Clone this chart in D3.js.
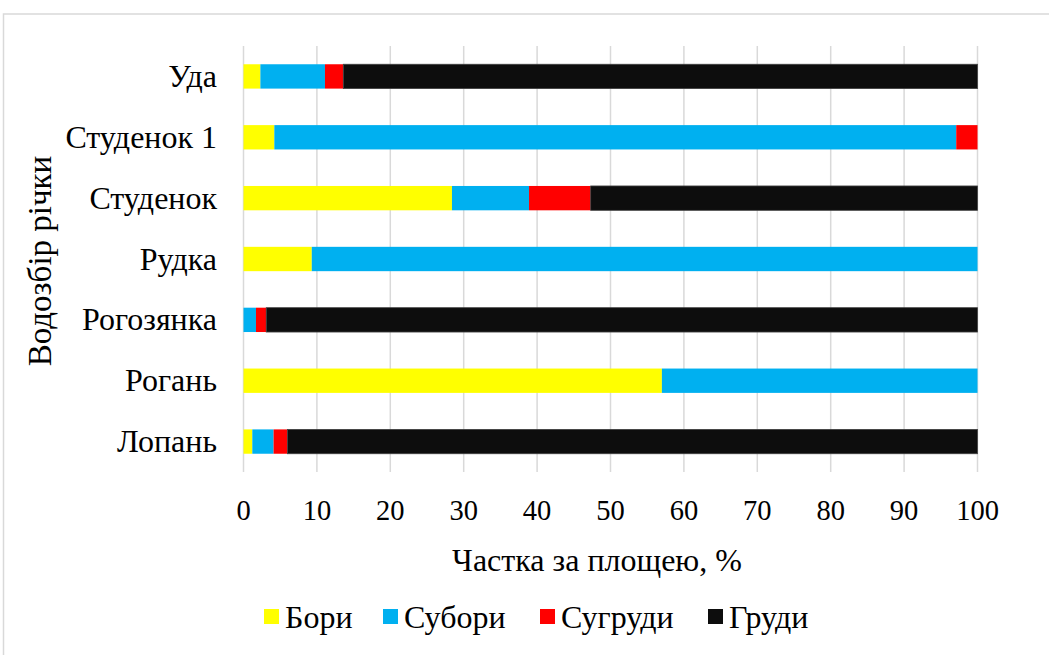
<!DOCTYPE html>
<html>
<head>
<meta charset="utf-8">
<script src="https://cdn.jsdelivr.net/npm/d3@7"></script>
<style>
  html, body { margin: 0; padding: 0; background: #fff; }
  svg { display: block; font-family: "Liberation Serif", "Times New Roman", serif; }
</style>
</head>
<body>
<div class="js-chart"></div>
<script>
// categories top to bottom
const rivers = ['Уда', 'Студенок 1', 'Студенок', 'Рудка', 'Рогозянка', 'Рогань', 'Лопань'];
const seriesNames = ['Бори', 'Субори', 'Сугруди', 'Груди'];
const bory = [2.3, 4.2, 28.4, 9.3, 0, 57.0, 1.2];
const subory = [8.8, 92.9, 10.5, 90.7, 1.7, 43.0, 2.9];
const suhrudy = [2.5, 2.9, 8.4, 0, 1.4, 0, 1.9];
const hrudy = [86.4, 0, 52.7, 0, 96.9, 0, 94.0];
const xTicks = [0, 10, 20, 30, 40, 50, 60, 70, 80, 90, 100];
const colors = ['#ffff00', '#00b0f0', '#ff0000', '#0d0d0d'];

const width = 1049
    , height = 655
    , margin = { top: 46, right: 71.5, bottom: 183, left: 243.5 }
    , fontSize = 32
    ;

const rows = rivers.map((name, i) => ({
  name,
  'Бори': bory[i],
  'Субори': subory[i],
  'Сугруди': suhrudy[i],
  'Груди': hrudy[i]
}));

const stacked = d3.stack().keys(seriesNames)(rows);

const x = d3.scaleLinear()
    .domain([0, 100])
    .range([margin.left, width - margin.right]);

const y = d3.scaleBand()
    .domain(rivers)
    .range([margin.top, height - margin.bottom])
    .paddingInner(0.6)
    .paddingOuter(0.3);

const svg = d3.select('.js-chart')
  .append('svg')
    .attr('width', width)
    .attr('height', height)
    .attr('font-family', '"Liberation Serif", "Times New Roman", serif');

// outer chart border
svg.append('rect')
    .attr('x', 3.5)
    .attr('y', 14)
    .attr('width', 1100)
    .attr('height', 700)
    .attr('fill', 'none')
    .attr('stroke', '#d9d9d9')
    .attr('stroke-width', 1.5);

// gridlines
svg.append('g')
  .selectAll('line')
  .data(xTicks)
  .join('line')
    .attr('x1', d => x(d))
    .attr('x2', d => x(d))
    .attr('y1', margin.top)
    .attr('y2', height - margin.bottom)
    .attr('stroke', '#d9d9d9')
    .attr('stroke-width', 1.5);

// bars
svg.append('g')
  .selectAll('g')
  .data(stacked)
  .join('g')
    .attr('fill', (d, i) => colors[i])
    .attr('stroke', (d, i) => i === 3 ? '#404040' : null)
    .attr('stroke-width', 0.8)
  .selectAll('rect')
  .data(d => d.filter(s => s[1] - s[0] > 0))
  .join('rect')
    .attr('x', d => x(d[0]))
    .attr('width', d => x(d[1]) - x(d[0]))
    .attr('y', d => y(d.data.name))
    .attr('height', y.bandwidth());

// x axis tick labels
svg.append('g')
    .attr('font-size', 28.5)
    .attr('text-anchor', 'middle')
  .selectAll('text')
  .data(xTicks)
  .join('text')
    .attr('x', d => x(d))
    .attr('y', 520)
    .text(d => d);

// category labels
svg.append('g')
    .attr('font-size', fontSize)
    .attr('text-anchor', 'end')
  .selectAll('text')
  .data(rivers)
  .join('text')
    .attr('x', 217)
    .attr('y', d => y(d) + y.bandwidth() / 2)
    .attr('dy', '0.33em')
    .text(d => d);

// axis titles
svg.append('text')
    .attr('font-size', 32)
    .attr('text-anchor', 'middle')
    .attr('x', 597)
    .attr('y', 571)
    .text('Частка за площею, %');

svg.append('text')
    .attr('font-size', 33)
    .attr('text-anchor', 'middle')
    .attr('transform', 'translate(51,261) rotate(-90)')
    .text('Водозбір річки');

// legend
const legendX = [264, 383, 540, 708];
const legend = svg.append('g')
    .attr('font-size', 32)
  .selectAll('g')
  .data(seriesNames)
  .join('g')
    .attr('transform', (d, i) => `translate(${legendX[i]},617)`);

legend.append('rect')
    .attr('x', 0)
    .attr('y', -8)
    .attr('width', 15)
    .attr('height', 15)
    .attr('fill', (d, i) => colors[i]);

legend.append('text')
    .attr('x', 21)
    .attr('dy', '0.33em')
    .text(d => d);
</script>
</body>
</html>
